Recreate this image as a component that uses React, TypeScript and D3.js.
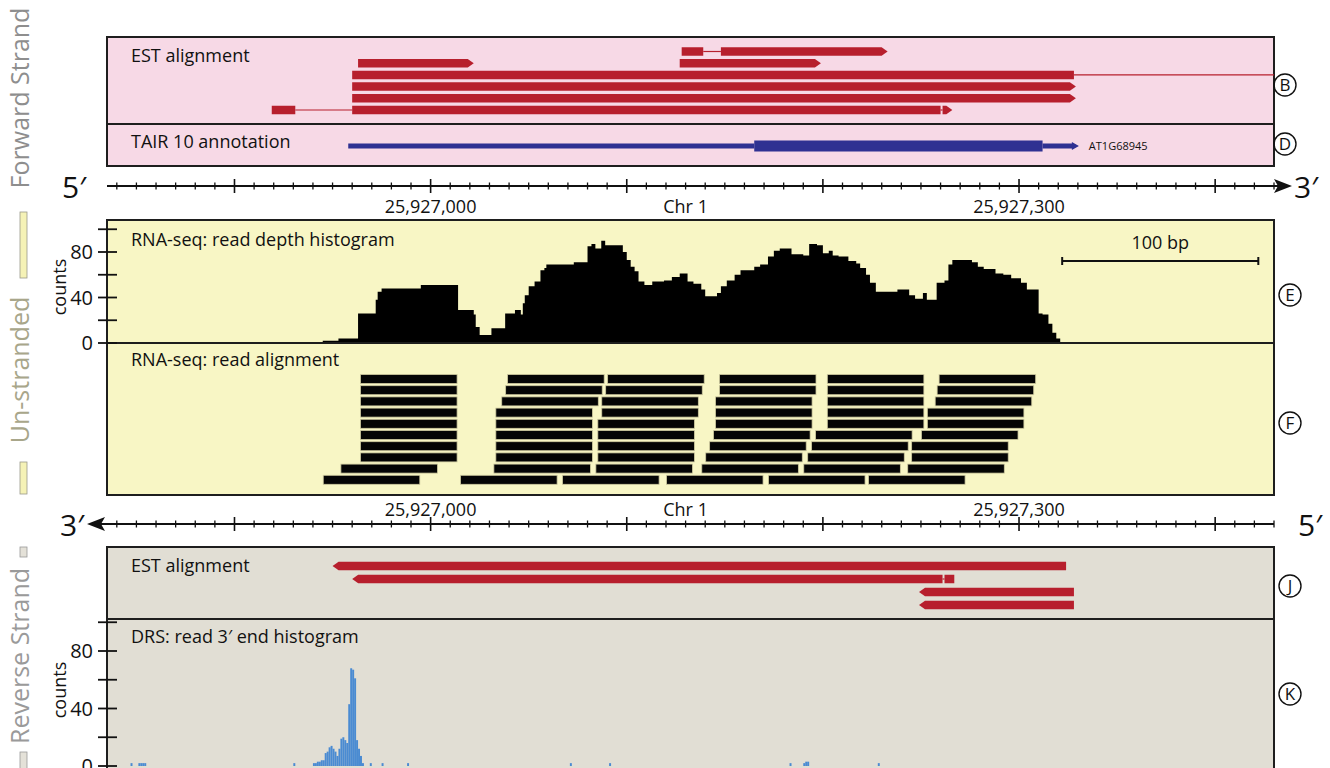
import React from 'react';
import * as d3 from 'd3';

const FONT = "'Open Sans', 'Noto Sans', sans-serif";

// ---- genomic window & axis ----
const VIEW_START = 25926835;
const VIEW_END = 25927430;
const MAJOR_STEP = 100;
const MINOR_STEP = 10;
const AXIS_LABELS = [
  { bp: 25927000, text: '25,927,000' },
  { bp: 25927130, text: 'Chr 1' },
  { bp: 25927300, text: '25,927,300' },
];

// ---- forward-strand EST alignment (rows of ESTs, each a list of exons) ----
const FWD_EST_ROWS = [
  [[[25927128, 25927139], [25927148, 25927233]]],
  [[[25926963, 25927022]], [[25927127, 25927199]]],
  [[[25926960, 25927328], [25927470, 25927520]]],
  [[[25926960, 25927329]]],
  [[[25926960, 25927329]]],
  [[[25926919, 25926931], [25926960, 25927260], [25927261, 25927266]]],
];

// ---- TAIR 10 gene model ----
const TAIR_UTR5 = [25926958, 25927165];
const TAIR_CDS = [25927165, 25927312];
const TAIR_UTR3 = [25927312, 25927330];
const TAIR_NAME = 'AT1G68945';

// ---- RNA-seq read depth (step starts: [bp, count]) ----
const DEPTH_STEPS = [
  [25926945, 2], [25926953, 4], [25926963, 26], [25926972, 38], [25926973, 45], [25926975, 48],
  [25926995, 51], [25927014, 29], [25927022, 25], [25927023, 14], [25927025, 7], [25927031, 13],
  [25927038, 26], [25927043, 29], [25927046, 25], [25927047, 35], [25927048, 42], [25927050, 50],
  [25927053, 54], [25927056, 64], [25927058, 66], [25927059, 69], [25927073, 71], [25927080, 85],
  [25927082, 87], [25927084, 83], [25927087, 90], [25927089, 86], [25927098, 80], [25927100, 73],
  [25927102, 67], [25927104, 63], [25927106, 54], [25927109, 51], [25927113, 54], [25927119, 55],
  [25927123, 58], [25927127, 61], [25927131, 54], [25927134, 52], [25927138, 47], [25927140, 41],
  [25927146, 44], [25927148, 50], [25927151, 55], [25927155, 60], [25927158, 64], [25927165, 67],
  [25927168, 69], [25927172, 76], [25927175, 81], [25927178, 83], [25927184, 78], [25927190, 77],
  [25927193, 87], [25927197, 86], [25927200, 79], [25927203, 81], [25927205, 77], [25927208, 76],
  [25927213, 72], [25927217, 70], [25927219, 66], [25927222, 60], [25927224, 53], [25927227, 45],
  [25927238, 47], [25927244, 42], [25927247, 39], [25927251, 44], [25927253, 38], [25927258, 53],
  [25927262, 55], [25927264, 69], [25927266, 73], [25927276, 71], [25927279, 67], [25927282, 65],
  [25927288, 61], [25927292, 60], [25927296, 57], [25927301, 53], [25927304, 47], [25927310, 26],
  [25927312, 25], [25927315, 17], [25927317, 9], [25927319, 4], [25927321, 0],
];
const DEPTH_TICKS = [0, 20, 40, 60, 80, 100];
const DEPTH_TICK_LABELS = [0, 40, 80];

// ---- RNA-seq read alignment (read start positions per row) ----
const READ_LEN = 50;
const READ_ROWS = [
  [25926964, 25927039, 25927090, 25927147, 25927202, 25927259],
  [25926964, 25927038, 25927089, 25927147, 25927202, 25927258],
  [25926964, 25927036, 25927087, 25927145, 25927202, 25927257],
  [25926964, 25927033, 25927087, 25927145, 25927202, 25927253],
  [25926964, 25927033, 25927085, 25927145, 25927202, 25927253],
  [25926964, 25927033, 25927085, 25927144, 25927196, 25927250],
  [25926964, 25927033, 25927085, 25927142, 25927194, 25927245],
  [25926964, 25927033, 25927085, 25927140, 25927192, 25927245],
  [25926954, 25927032, 25927084, 25927138, 25927190, 25927243],
  [25926945, 25927015, 25927067, 25927120, 25927172, 25927223],
];
const SCALE_BAR_START = 25927322;
const SCALE_BAR_LEN = 100;

// ---- reverse-strand EST alignment ----
const REV_EST_ROWS = [
  [[[25926950, 25927324]]],
  [[[25926960, 25927261], [25927262, 25927267]]],
  [[[25927249, 25927328]]],
  [[[25927249, 25927328]]],
];

// ---- DRS read 3' end histogram ([bp, count]) ----
const DRS_COUNTS = [
  [25926847, 2], [25926851, 2], [25926852, 2], [25926853, 2], [25926854, 2],
  [25926930, 2], [25926940, 2], [25926941, 2], [25926942, 3], [25926943, 3], [25926944, 4],
  [25926945, 4], [25926946, 9], [25926947, 10], [25926948, 13], [25926949, 14], [25926950, 12],
  [25926951, 10], [25926952, 7], [25926953, 12], [25926954, 19], [25926955, 20], [25926956, 18],
  [25926957, 16], [25926958, 43], [25926959, 68], [25926960, 67], [25926961, 61], [25926962, 18],
  [25926963, 12], [25926964, 7], [25926965, 2], [25926969, 2], [25926975, 2], [25926988, 2],
  [25927071, 2], [25927091, 2], [25927183, 2], [25927190, 2], [25927191, 3], [25927192, 3],
  [25927228, 2],
];
const DRS_TICKS = [0, 20, 40, 60, 80, 100];
const DRS_TICK_LABELS = [0, 40, 80];

const PANEL_L = 107;
const PANEL_R = 1274;

const C_PINK = '#f7d9e6';
const C_YELLOW = '#f8f6c5';
const C_GRAY = '#e1ded4';
const C_RED = '#b71f2d';
const C_BLUE = '#2f3192';
const C_DRS = '#4a8bd2';
const C_BORDER = '#1e1e1e';

const x = d3.scaleLinear().domain([VIEW_START, VIEW_END]).range([PANEL_L, PANEL_R]);
const depthY = d3.scaleLinear().domain([0, 100]).range([343, 229.25]);
const drsY = d3.scaleLinear().domain([0, 100]).range([766, 622.25]);

function arrowRight(x0: number, x1: number, yc: number, h: number, t: number) {
  const tt = Math.min(t, x1 - x0);
  return `${x0},${yc - h / 2} ${x1 - tt},${yc - h / 2} ${x1},${yc} ${x1 - tt},${yc + h / 2} ${x0},${yc + h / 2}`;
}
function arrowLeft(x0: number, x1: number, yc: number, h: number, t: number) {
  const tt = Math.min(t, x1 - x0);
  return `${x0},${yc} ${x0 + tt},${yc - h / 2} ${x1},${yc - h / 2} ${x1},${yc + h / 2} ${x0 + tt},${yc + h / 2}`;
}

function EstTrack({ rows, y0, dy, strand, clip }: any) {
  const h = 8.5;
  const out: any[] = [];
  rows.forEach((row: any[], ri: number) => {
    const yc = y0 + ri * dy;
    row.forEach((exons: number[][], ei: number) => {
      for (let k = 0; k < exons.length - 1; k++) {
        out.push(
          <line key={`i${ri}-${ei}-${k}`} x1={x(exons[k][1])} x2={x(exons[k + 1][0])} y1={yc} y2={yc}
            stroke={C_RED} strokeWidth={1.2} />
        );
      }
      exons.forEach((ex, k) => {
        const x0 = x(ex[0]);
        const x1 = x(ex[1]);
        let pts = '';
        if (strand === '+' && k === exons.length - 1) pts = arrowRight(x0, x1, yc, h, 6);
        else if (strand === '-' && k === 0) pts = arrowLeft(x0, x1, yc, h, 6);
        else pts = `${x0},${yc - h / 2} ${x1},${yc - h / 2} ${x1},${yc + h / 2} ${x0},${yc + h / 2}`;
        out.push(<polygon key={`e${ri}-${ei}-${k}`} points={pts} fill={C_RED} />);
      });
    });
  });
  return <g clipPath={clip}>{out}</g>;
}

function GenomeAxis({ y, dir }: { y: number; dir: 'right' | 'left' }) {
  const minor = d3.range(Math.ceil(VIEW_START / MINOR_STEP) * MINOR_STEP, VIEW_END + 1, MINOR_STEP);
  const labelY = dir === 'right' ? y + 27 : y - 8;
  return (
    <g>
      {dir === 'right' ? (
        <>
          <line x1={x(VIEW_START)} x2={1282} y1={y} y2={y} stroke="#111" strokeWidth={2} />
          <polygon points={`${1274},${y - 7} ${1292},${y} ${1274},${y + 7} ${1278},${y}`} fill="#111" />
          <text x={62} y={y + 12} fontSize={30} fontFamily={FONT} fill="#111">5′</text>
          <text x={1294} y={y + 12} fontSize={30} fontFamily={FONT} fill="#111">3′</text>
        </>
      ) : (
        <>
          <line x1={96} x2={x(VIEW_END)} y1={y} y2={y} stroke="#111" strokeWidth={2} />
          <polygon points={`${105},${y - 7} ${87},${y} ${105},${y + 7} ${101},${y}`} fill="#111" />
          <text x={60} y={y + 12} fontSize={30} fontFamily={FONT} fill="#111">3′</text>
          <text x={1298} y={y + 12} fontSize={30} fontFamily={FONT} fill="#111">5′</text>
        </>
      )}
      {minor.map((bp) => {
        const major = bp % MAJOR_STEP === 0;
        const t = major ? 7 : 3.5;
        return <line key={bp} x1={x(bp)} x2={x(bp)} y1={y - t} y2={y + t} stroke="#111" strokeWidth={major ? 1.6 : 1.3} />;
      })}
      {AXIS_LABELS.map((l) => (
        <text key={l.text} x={x(l.bp)} y={labelY} textAnchor="middle" fontSize={18} fontFamily={FONT} fill="#111">
          {l.text}
        </text>
      ))}
    </g>
  );
}

function YAxis({ scale, ticks, labels, label, labelCy }: any) {
  return (
    <g>
      {ticks.map((t: number) => (
        <line key={t} x1={98} x2={117} y1={scale(t)} y2={scale(t)} stroke="#111" strokeWidth={1.8} />
      ))}
      {labels.map((t: number) => (
        <text key={t} x={93} y={scale(t) + 7} textAnchor="end" fontSize={20} fontFamily={FONT} fill="#111">{t}</text>
      ))}
      <text transform={`translate(66,${labelCy}) rotate(-90)`} textAnchor="middle" fontSize={18} fontFamily={FONT} fill="#111">
        {label}
      </text>
    </g>
  );
}

function Circled({ cx, cy, ch }: { cx: number; cy: number; ch: string }) {
  return (
    <g>
      <circle cx={cx} cy={cy} r={11} fill="none" stroke="#111" strokeWidth={1.4} />
      <text x={cx} y={cy + 6} textAnchor="middle" fontSize={17} fontFamily={FONT} fill="#111">{ch}</text>
    </g>
  );
}

export default function App() {
  const depthArea = d3
    .area<number[]>()
    .x((d) => x(d[0]))
    .y0(depthY(0))
    .y1((d) => depthY(d[1]))
    .curve(d3.curveStepAfter)(DEPTH_STEPS as any);

  const bpW = x(VIEW_START + 1) - x(VIEW_START);

  return (
    <svg width={1330} height={768} style={{ display: 'block', position: 'absolute', left: 0, top: 0 }}>
      <defs>
        <clipPath id="clipTop"><rect x={PANEL_L} y={37} width={PANEL_R - PANEL_L} height={129} /></clipPath>
        <clipPath id="clipBot"><rect x={PANEL_L} y={547} width={PANEL_R - PANEL_L} height={230} /></clipPath>
      </defs>
      <rect x={0} y={0} width={1330} height={768} fill="#fff" />

      {/* left strand labels */}
      <text transform="translate(29,98) rotate(-90)" textAnchor="middle" fontSize={25} fontFamily={FONT} fill="#8e8e8e">
        Forward Strand
      </text>
      <rect x={20} y={212} width={7} height={66} fill="#f5f2b6" stroke="#9a9a8a" strokeWidth={0.8} />
      <text transform="translate(29,370) rotate(-90)" textAnchor="middle" fontSize={25} fontFamily={FONT} fill="#a8a68a">
        Un-stranded
      </text>
      <rect x={20} y={462} width={7} height={32} fill="#f5f2b6" stroke="#9a9a8a" strokeWidth={0.8} />
      <rect x={20} y={547} width={7} height={10} fill="#e4e1d8" stroke="#9a9a9a" strokeWidth={0.8} />
      <text transform="translate(29,656) rotate(-90)" textAnchor="middle" fontSize={25} fontFamily={FONT} fill="#9a9a9a">
        Reverse Strand
      </text>
      <rect x={20} y={752} width={7} height={20} fill="#e4e1d8" stroke="#9a9a9a" strokeWidth={0.8} />

      {/* forward strand panel */}
      <rect x={PANEL_L} y={37} width={PANEL_R - PANEL_L} height={129} fill={C_PINK} stroke={C_BORDER} strokeWidth={2} />
      <line x1={PANEL_L} x2={PANEL_R} y1={124} y2={124} stroke={C_BORDER} strokeWidth={2} />
      <text x={131} y={62} fontSize={18} fontFamily={FONT} fill="#111">EST alignment</text>
      <text x={131} y={148} fontSize={18} fontFamily={FONT} fill="#111">TAIR 10 annotation</text>
      <EstTrack rows={FWD_EST_ROWS} y0={51.5} dy={11.7} strand="+" clip="url(#clipTop)" />
      {/* TAIR gene model */}
      <rect x={x(TAIR_UTR5[0])} y={146 - 2.5} width={x(TAIR_UTR5[1]) - x(TAIR_UTR5[0])} height={5} fill={C_BLUE} />
      <rect x={x(TAIR_CDS[0])} y={146 - 5.5} width={x(TAIR_CDS[1]) - x(TAIR_CDS[0])} height={11} fill={C_BLUE} />
      <polygon points={arrowRight(x(TAIR_UTR3[0]), x(TAIR_UTR3[1]), 146, 5, 5)} fill={C_BLUE} />
      <polygon points={`${x(TAIR_UTR3[1]) - 6},${146 - 4} ${x(TAIR_UTR3[1]) + 1},${146} ${x(TAIR_UTR3[1]) - 6},${146 + 4}`} fill={C_BLUE} />
      <text x={x(TAIR_UTR3[1]) + 11} y={150} fontSize={11} fontFamily={FONT} fill="#111">{TAIR_NAME}</text>

      {/* top axis */}
      <GenomeAxis y={186} dir="right" />

      {/* un-stranded panel */}
      <rect x={PANEL_L} y={220} width={PANEL_R - PANEL_L} height={275} fill={C_YELLOW} stroke={C_BORDER} strokeWidth={2} />
      <path d={depthArea || ''} fill="#000" />
      <line x1={PANEL_L} x2={PANEL_R} y1={343} y2={343} stroke={C_BORDER} strokeWidth={2} />
      <text x={131} y={246} fontSize={18} fontFamily={FONT} fill="#111">RNA-seq: read depth histogram</text>
      <text x={131} y={366} fontSize={18} fontFamily={FONT} fill="#111">RNA-seq:  read alignment</text>
      <YAxis scale={depthY} ticks={DEPTH_TICKS} labels={DEPTH_TICK_LABELS} label="counts" labelCy={287} />
      {/* scale bar */}
      <line x1={x(SCALE_BAR_START)} x2={x(SCALE_BAR_START + SCALE_BAR_LEN)} y1={261} y2={261} stroke="#111" strokeWidth={2} />
      <line x1={x(SCALE_BAR_START)} x2={x(SCALE_BAR_START)} y1={257} y2={265} stroke="#111" strokeWidth={2} />
      <line x1={x(SCALE_BAR_START + SCALE_BAR_LEN)} x2={x(SCALE_BAR_START + SCALE_BAR_LEN)} y1={257} y2={265} stroke="#111" strokeWidth={2} />
      <text x={x(SCALE_BAR_START + SCALE_BAR_LEN / 2)} y={249} textAnchor="middle" fontSize={18} fontFamily={FONT} fill="#111">100 bp</text>
      {/* reads */}
      {READ_ROWS.map((row, ri) =>
        row.map((s, k) => (
          <rect key={`r${ri}-${k}`} x={x(s) + 0.5} y={379 + ri * 11.2 - 4.5} width={x(s + READ_LEN) - x(s) - 1.5} height={9}
            fill="#050505" stroke="#cfcba0" strokeWidth={0.8} />
        ))
      )}

      {/* bottom axis */}
      <GenomeAxis y={524} dir="left" />

      {/* reverse strand panel */}
      <rect x={PANEL_L} y={547} width={PANEL_R - PANEL_L} height={240} fill={C_GRAY} stroke={C_BORDER} strokeWidth={2} />
      <line x1={PANEL_L} x2={PANEL_R} y1={619} y2={619} stroke={C_BORDER} strokeWidth={2} />
      <text x={131} y={572} fontSize={18} fontFamily={FONT} fill="#111">EST alignment</text>
      <text x={131} y={643} fontSize={18} fontFamily={FONT} fill="#111">DRS: read 3′ end histogram</text>
      <EstTrack rows={REV_EST_ROWS} y0={566} dy={13} strand="-" clip="url(#clipBot)" />
      <g clipPath="url(#clipBot)">
        {DRS_COUNTS.map(([bp, c]) => (
          <rect key={bp} x={x(bp)} y={drsY(c)} width={bpW} height={drsY(0) - drsY(c)} fill={C_DRS} />
        ))}
      </g>
      <YAxis scale={drsY} ticks={DRS_TICKS} labels={DRS_TICK_LABELS} label="counts" labelCy={690} />

      {/* panel letters */}
      <Circled cx={1285} cy={85} ch="B" />
      <Circled cx={1285} cy={144} ch="D" />
      <Circled cx={1290} cy={295} ch="E" />
      <Circled cx={1290} cy={423} ch="F" />
      <Circled cx={1290} cy={586} ch="J" />
      <Circled cx={1290} cy={694} ch="K" />
    </svg>
  );
}
